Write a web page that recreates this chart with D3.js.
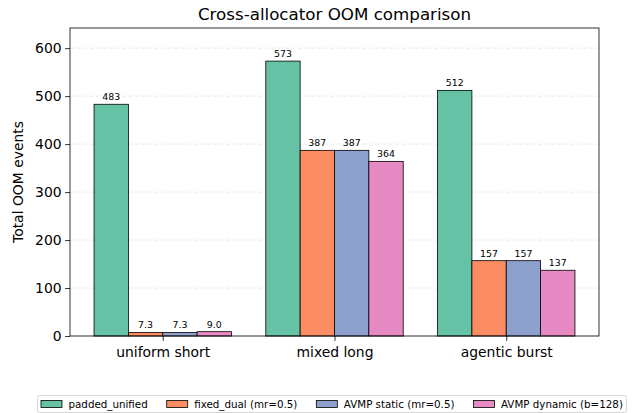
<!DOCTYPE html>
<html>
<head>
<meta charset="utf-8">
<script src="https://cdn.jsdelivr.net/npm/d3@7"></script>
<style>
  html, body { margin: 0; padding: 0; background: #fff; }
  svg { display: block; font-family: "DejaVu Sans", sans-serif; }
</style>
</head>
<body>
<svg id="chart" width="641" height="413"></svg>
<script>
// Workloads along the x axis
const categories = ["uniform short", "mixed long", "agentic burst"];
// Allocator series
const seriesNames = ["padded_unified", "fixed_dual (mr=0.5)", "AVMP static (mr=0.5)", "AVMP dynamic (b=128)"];
const seriesColors = ["#66c2a5", "#fc8d62", "#8da0cb", "#e78ac3"];
// Total OOM events per allocator, one array per series
const paddedUnified = [483, 573, 512];
const fixedDual = [7.3, 387, 157];
const avmpStatic = [7.3, 387, 157];
const avmpDynamic = [9.0, 364, 137];
const valueLabels = [
  ["483", "573", "512"],
  ["7.3", "387", "157"],
  ["7.3", "387", "157"],
  ["9.0", "364", "137"]
];
const yTicks = [0, 100, 200, 300, 400, 500, 600];

const series = [paddedUnified, fixedDual, avmpStatic, avmpDynamic];

const svg = d3.select("#chart");
const plot = { left: 70, right: 599, top: 28, bottom: 336 };
const barW = 0.2;

const x = d3.scaleLinear().domain([-0.54, 2.54]).range([plot.left, plot.right]);
const y = d3.scaleLinear().domain([0, 642]).range([plot.bottom, plot.top]);

// horizontal dashed grid
svg.append("g").selectAll("line").data(yTicks).join("line")
  .attr("x1", plot.left).attr("x2", plot.right)
  .attr("y1", d => y(d)).attr("y2", d => y(d))
  .attr("stroke", "#b0b0b0").attr("stroke-opacity", 0.35)
  .attr("stroke-width", 0.8).attr("stroke-dasharray", "4,2.5");

// bars
series.forEach((vals, si) => {
  const off = (si - 1.5) * barW;
  const g = svg.append("g");
  g.selectAll("rect").data(vals).join("rect")
    .attr("x", (d, i) => x(i + off - barW / 2))
    .attr("width", x(barW) - x(0))
    .attr("y", d => y(d))
    .attr("height", d => y(0) - y(d))
    .attr("fill", seriesColors[si])
    .attr("stroke", "#000").attr("stroke-width", 0.8);
  g.selectAll("text").data(vals).join("text")
    .attr("x", (d, i) => x(i + off))
    .attr("y", d => y(d) - 4)
    .attr("text-anchor", "middle")
    .attr("font-size", "9.4px")
    .attr("fill", "#000")
    .text((d, i) => valueLabels[si][i]);
});

// axes
const yAxis = d3.axisLeft(y).tickValues(yTicks).tickSize(4.9).tickPadding(3.5);
const gy = svg.append("g").attr("transform", `translate(${plot.left},0)`).call(yAxis);
gy.select(".domain").remove();
gy.selectAll("text").attr("font-size", "13.9px").attr("font-family", "DejaVu Sans").attr("fill", "#000");
gy.selectAll("line").attr("stroke", "#000").attr("stroke-width", 0.8);

const xAxis = d3.axisBottom(x).tickValues([0, 1, 2]).tickFormat(i => categories[i]).tickSize(4.9).tickPadding(6.5);
const gx = svg.append("g").attr("transform", `translate(0,${plot.bottom})`).call(xAxis);
gx.select(".domain").remove();
gx.selectAll("text").attr("font-size", "13.9px").attr("font-family", "DejaVu Sans").attr("fill", "#000");
gx.selectAll("line").attr("stroke", "#000").attr("stroke-width", 0.8);

// frame
svg.append("rect")
  .attr("x", plot.left).attr("y", plot.top)
  .attr("width", plot.right - plot.left).attr("height", plot.bottom - plot.top)
  .attr("fill", "none").attr("stroke", "#000").attr("stroke-width", 0.8);

// title and y label
svg.append("text")
  .attr("x", (plot.left + plot.right) / 2).attr("y", 20)
  .attr("text-anchor", "middle").attr("font-size", "16.7px").attr("fill", "#000")
  .text("Cross-allocator OOM comparison");

svg.append("text")
  .attr("transform", `translate(23,${(plot.top + plot.bottom) / 2}) rotate(-90)`)
  .attr("text-anchor", "middle").attr("font-size", "13.9px").attr("fill", "#000")
  .text("Total OOM events");

// legend in a single row below the plot
const legend = svg.append("g");
const fs = 10.3;
const handleW = 21;
const colGap = 19;
const box = legend.append("rect")
  .attr("fill", "#fff").attr("stroke", "#ccc").attr("stroke-width", 0.8).attr("rx", 2);
let cx = 0;
const items = legend.append("g");
seriesNames.forEach((name, i) => {
  const it = items.append("g").attr("transform", `translate(${cx},0)`);
  it.append("rect").attr("x", 0).attr("y", -3.5).attr("width", handleW).attr("height", 7)
    .attr("fill", seriesColors[i]).attr("stroke", "#000").attr("stroke-width", 0.8);
  const t = it.append("text").attr("x", handleW + 6.5).attr("y", 3.7)
    .attr("font-size", fs + "px").attr("fill", "#000").text(name);
  cx += handleW + 6.5 + t.node().getComputedTextLength() + colGap;
});
const totalW = cx - colGap;
const lx = 41, ly = 404;
items.attr("transform", `translate(${lx},${ly})`);
box.attr("x", lx - 3.5).attr("y", ly - 8.5).attr("width", totalW + 7).attr("height", 17);
</script>
</body>
</html>
